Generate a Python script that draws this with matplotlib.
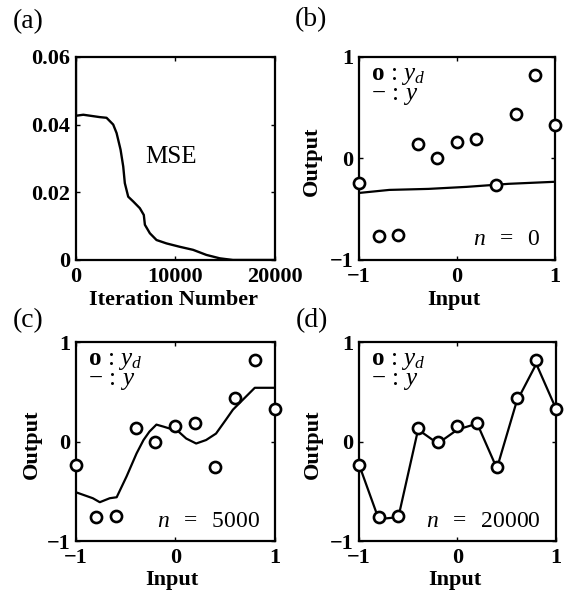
import matplotlib
matplotlib.use("Agg")
import matplotlib.pyplot as plt

plt.rcParams['font.family'] = ['Liberation Serif', 'DejaVu Serif']
plt.rcParams['mathtext.fontset'] = 'custom'
plt.rcParams['mathtext.rm'] = 'Liberation Serif'
plt.rcParams['mathtext.it'] = 'Liberation Serif:italic'
plt.rcParams['mathtext.bf'] = 'Liberation Serif:bold'

# ---- data ----
mse_iter = [0, 0, 740, 2400, 3080, 3750, 4090, 4490, 4760, 4920, 5260, 5760, 6430,
            6830, 6940, 7440, 8110, 9110, 10450, 11790, 13130, 14470, 15800, 20000]
mse_val = [0.06, 0.0426, 0.0429, 0.0422, 0.042, 0.040, 0.0375, 0.0326, 0.0276, 0.0227,
           0.0187, 0.0173, 0.0153, 0.0133, 0.0104, 0.0079, 0.0059, 0.0049, 0.0039,
           0.0030, 0.0015, 0.0005, 0.0, 0.0]

x_pts = [-1.0, -0.8, -0.6, -0.4, -0.2, 0.0, 0.2, 0.4, 0.6, 0.8, 1.0]
y_d = [-0.24, -0.76, -0.75, 0.14, 0.0, 0.16, 0.19, -0.26, 0.44, 0.82, 0.33]

x_b = [-1.0, -0.69, -0.29, 0.1, 0.53, 1.0]
y_b = [-0.34, -0.31, -0.30, -0.28, -0.25, -0.23]

x_c = [-1.0, -0.83, -0.76, -0.66, -0.59, -0.49, -0.39, -0.32, -0.26, -0.19, -0.12,
       -0.055, 0.01, 0.11, 0.21, 0.31, 0.41, 0.51, 0.58, 0.68, 0.8, 1.0]
y_c = [-0.51, -0.57, -0.61, -0.57, -0.56, -0.35, -0.12, 0.015, 0.1, 0.17, 0.15,
       0.13, 0.12, 0.03, -0.02, 0.015, 0.08, 0.22, 0.32, 0.42, 0.54, 0.54]

y_final = [-0.23, -0.78, -0.76, 0.12, -0.02, 0.12, 0.18, -0.27, 0.40, 0.78, 0.33]

n_labels = ["$n\\ \\ =\\ \\ 0$", "$n\\ \\ =\\ \\ 5000$", "$n\\ \\ =\\ \\ 20000$"]
io_ticks = [-1, 0, 1]
io_ticklabels = ["\u22121", "0", "1"]
mse_xticks = [0, 10000, 20000]
mse_xticklabels = ["0", "10000", "20000"]
mse_yticks = [0, 0.02, 0.04, 0.06]
mse_yticklabels = ["0", "0.02", "0.04", "0.06"]

fig = plt.figure(figsize=(5.71, 5.94), dpi=100)

TFS = 16
LFS = 16

def style(ax):
    for s in ax.spines.values():
        s.set_linewidth(1.6)
    ax.tick_params(direction='in', length=3, width=1, top=True, right=True,
                   labelsize=TFS)
    ax.tick_params(axis='x', pad=5)
    ax.tick_params(axis='y', pad=4)
    for lab in ax.get_xticklabels() + ax.get_yticklabels():
        lab.set_fontweight('bold')

# (a)
axa = fig.add_axes([0.133, 0.5623, 0.348, 0.342])
axa.plot(mse_iter, mse_val, color='black', lw=1.7)
axa.set_xlim(0, 20000)
axa.set_ylim(0, 0.06)
axa.set_xticks(mse_xticks)
axa.set_xticklabels(mse_xticklabels)
axa.set_yticks(mse_yticks)
axa.set_yticklabels(mse_yticklabels)
style(axa)
axa.set_xlabel("Iteration Number", fontsize=LFS, fontweight='bold')
axa.xaxis.set_label_coords(0.49, -0.148)
axa.text(0.48, 0.507, "MSE", transform=axa.transAxes, fontsize=18,
         ha='center', va='center')

def io_panel(rect, yline_x, yline_y, ntext, xl_y, yl_x):
    ax = fig.add_axes(rect)
    ax.plot(yline_x, yline_y, color='black', lw=1.6, zorder=2)
    ax.plot(x_pts, y_d, linestyle='none', marker='o', ms=8, mfc='white',
            mec='black', mew=1.9, zorder=3, clip_on=False)
    ax.set_xlim(-1, 1)
    ax.set_ylim(-1, 1)
    ax.set_xticks(io_ticks)
    ax.set_xticklabels(io_ticklabels)
    ax.set_yticks(io_ticks)
    ax.set_yticklabels(io_ticklabels)
    style(ax)
    ax.set_xlabel("Input", fontsize=LFS, fontweight='bold')
    ax.xaxis.set_label_coords(0.485, xl_y)
    ax.set_ylabel("Output", fontsize=LFS, fontweight='bold')
    ax.yaxis.set_label_coords(yl_x, 0.485)
    ax.text(0.06, 0.905, "$\\mathbf{o}\\,:\\,y_d$", transform=ax.transAxes,
            fontsize=18, ha='left', va='center')
    ax.text(0.06, 0.805, "$-\\,:\\,y$", transform=ax.transAxes,
            fontsize=18, ha='left', va='center')
    ax.text(0.925, 0.10, ntext, transform=ax.transAxes, fontsize=17,
            ha='right', va='center')
    return ax

io_panel([0.6287, 0.5623, 0.343, 0.342], x_b, y_b, n_labels[0], -0.149, -0.19)
io_panel([0.133, 0.0892, 0.348, 0.335], x_c, y_c, n_labels[1], -0.146, -0.171)
io_panel([0.6287, 0.0892, 0.345, 0.335], x_pts, y_final, n_labels[2], -0.146, -0.183)

# panel letters
for lbl, (px, py) in zip(["(a)", "(b)", "(c)", "(d)"],
                         [(28, 22), (311, 20), (28, 321), (312, 321)]):
    fig.text(px / 571, 1 - py / 594, lbl, fontsize=20, ha='center', va='center')

fig.savefig("out.png", dpi=100)
